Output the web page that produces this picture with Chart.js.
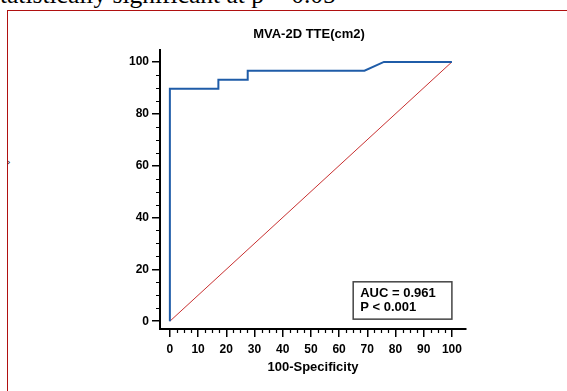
<!DOCTYPE html>
<html>
<head>
<meta charset="utf-8">
<script src="https://cdn.jsdelivr.net/npm/chart.js@4.4.1/dist/chart.umd.min.js"></script>
<style>
    body { margin: 0; background: #fff; overflow: hidden; }
    #frame { position: absolute; left: 7px; top: 10px; width: 620px; height: 420px; border: 1px solid #b01010; }
    #caption { position: absolute; left: -10px; top: -20px; font-family: "Liberation Serif", serif; font-size: 25.5px; color: #000; white-space: nowrap; }
    #mark { position: absolute; left: 7px; top: 157px; font-family: "DejaVu Sans", sans-serif; font-size: 9px; color: #000; }
    #roc { position: absolute; left: 0; top: 0; }
</style>
</head>
<body>
<div id="caption">statistically significant at p = 0.05</div>
<div id="frame"></div>
<div id="mark">›</div>
<canvas id="roc" width="567" height="391"></canvas>
<script>
// ROC curve points (100-specificity, sensitivity)
const rocX = [0, 0, 17.2, 17.2, 27.6, 27.6, 69.0, 75.9, 100];
const rocY = [0, 89.7, 89.7, 93.1, 93.1, 96.6, 96.6, 100, 100];
// reference line
const refX = [0, 100];
const refY = [0, 100];

const xTicks = [0, 10, 20, 30, 40, 50, 60, 70, 80, 90, 100];
const yTicks = [0, 20, 40, 60, 80, 100];
const xMinor = [2.5, 5, 7.5, 12.5, 15, 17.5, 22.5, 25, 27.5, 32.5, 35, 37.5, 42.5, 45, 47.5, 52.5, 55, 57.5, 62.5, 65, 67.5, 72.5, 75, 77.5, 82.5, 85, 87.5, 92.5, 95, 97.5];
const yMinor = [5, 10, 15, 25, 30, 35, 45, 50, 55, 65, 70, 75, 85, 90, 95];

const chartTitle = 'MVA-2D TTE(cm2)';
const xTitle = '100-Specificity';
const statLines = ['AUC = 0.961', 'P < 0.001'];

const toPoints = (xs, ys) => xs.map((x, i) => ({x: x, y: ys[i]}));

const labelFont = {family: 'Liberation Sans', size: 12, weight: 'bold'};
const titleFont = {family: 'Liberation Sans', size: 13, weight: 'bold'};

// title, minor ticks + AUC box
const extras = {
    id: 'extras',
    afterDraw(chart) {
        const ctx = chart.ctx;
        const xs = chart.scales.x, ys = chart.scales.y;
        const area = chart.chartArea;
        ctx.save();

        ctx.fillStyle = '#000';
        ctx.font = 'bold 13px "Liberation Sans"';
        ctx.textAlign = 'center';
        ctx.textBaseline = 'middle';
        ctx.fillText(chartTitle, (area.left + area.right) / 2 - 4, 34);

        ctx.strokeStyle = '#000';
        ctx.lineWidth = 1.2;
        ctx.beginPath();
        xMinor.forEach(function(v) {
            var px = Math.round(xs.getPixelForValue(v)) + 0.5;
            ctx.moveTo(px, xs.top);
            ctx.lineTo(px, xs.top + 4);
        });
        yMinor.forEach(function(v) {
            var py = Math.round(ys.getPixelForValue(v)) + 0.5;
            ctx.moveTo(ys.right, py);
            ctx.lineTo(ys.right - 4, py);
        });
        ctx.stroke();

        // stats box
        var left = xs.getPixelForValue(65), right = xs.getPixelForValue(100);
        var top = ys.getPixelForValue(15.2), bottom = ys.getPixelForValue(0.8);
        ctx.strokeStyle = '#444';
        ctx.lineWidth = 1.5;
        ctx.strokeRect(left, top, right - left, bottom - top);
        ctx.font = 'bold 13px "Liberation Sans"';
        ctx.textAlign = 'left';
        ctx.fillText(statLines[0], left + 7, top + 11.5);
        ctx.fillText(statLines[1], left + 7, top + 25.5);
        ctx.restore();
    }
};

new Chart(document.getElementById('roc'), {
    type: 'scatter',
    data: {
        datasets: [
            {
                data: toPoints(refX, refY),
                showLine: true,
                borderColor: '#c83030',
                borderWidth: 1,
                pointRadius: 0,
                order: 2
            },
            {
                data: toPoints(rocX, rocY),
                showLine: true,
                borderColor: '#1f5ca8',
                borderWidth: 2,
                pointRadius: 0,
                order: 1
            }
        ]
    },
    options: {
        responsive: false,
        animation: false,
        events: [],
        layout: {padding: {left: 0, right: 101, top: 50, bottom: 0}},
        plugins: {
            legend: {display: false},
            tooltip: {enabled: false},
            title: {display: false}
        },
        scales: {
            x: {
                type: 'linear',
                min: -3.5,
                max: 105,
                afterBuildTicks: function(s) { s.ticks = xTicks.map(v => ({value: v})); },
                afterFit: function(s) { s.height = 62; },
                ticks: {color: '#000', font: labelFont, padding: 5, autoSkip: false, maxRotation: 0},
                grid: {drawOnChartArea: false, tickLength: 8, color: '#000', lineWidth: 1.5},
                border: {color: '#000', width: 2},
                title: {display: true, text: xTitle, color: '#000', font: titleFont, padding: {top: 0, bottom: 16}}
            },
            y: {
                type: 'linear',
                min: -3,
                max: 104.6,
                afterBuildTicks: function(s) { s.ticks = yTicks.map(v => ({value: v})); },
                afterFit: function(s) { s.width = 160; },
                ticks: {color: '#000', font: labelFont, padding: 3},
                grid: {drawOnChartArea: false, tickLength: 8, color: '#000', lineWidth: 1.5},
                border: {color: '#000', width: 2}
            }
        }
    },
    plugins: [extras]
});
</script>
</body>
</html>
